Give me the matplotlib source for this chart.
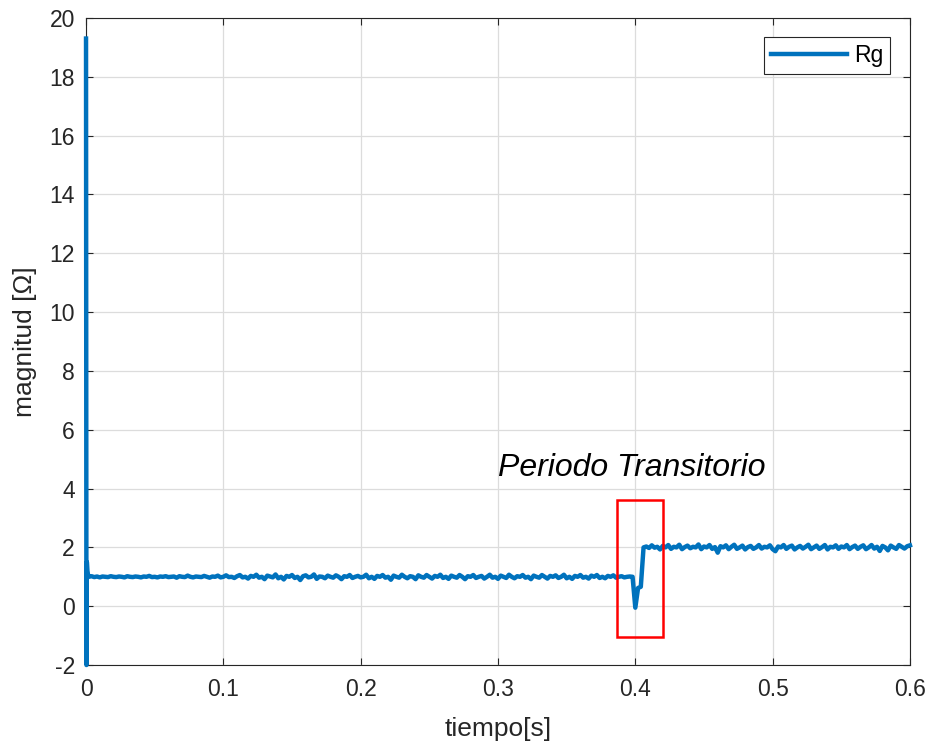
import numpy as np
import matplotlib.pyplot as plt
from matplotlib.patches import Rectangle

# start-up spike (non uniform time)
spike_t = [0.0, 0.0003, 0.0006, 0.0010, 0.0015]
spike_v = [19.3, -2.0, 1.5, 1.2, 1.05]

# main signal, sampled every 2 ms from 0.002 to 0.600
rg_vals = [
    1.00, 1.02, 0.99, 1.01, 0.98, 1.01, 1.00, 0.99, 1.02, 1.00,
    0.99, 1.01, 1.00, 0.98, 1.02, 1.00, 0.99, 1.01, 1.00, 0.98,
    1.01, 1.00, 1.03, 0.99, 1.00, 0.98, 1.01, 1.00, 1.02, 0.99,
    1.00, 1.01, 0.97, 1.02, 1.00, 0.99, 1.04, 1.00, 0.98, 1.01,
    1.00, 0.99, 1.03, 1.00, 0.97, 1.01, 1.00, 1.04, 0.98, 1.00,
    1.05, 0.99, 1.00, 0.96, 1.02, 1.06, 0.98, 1.00, 0.94, 1.03,
    1.00, 1.07, 0.97, 1.00, 0.92, 1.04, 1.01, 0.98, 1.08, 0.95,
    1.00, 0.91, 1.03, 1.00, 1.06, 0.96, 1.00, 0.89, 1.02, 1.05,
    0.98, 1.00, 1.08, 0.93, 1.01, 1.00, 0.95, 1.04, 1.00, 0.97,
    1.05, 1.00, 0.92, 1.02, 1.00, 1.06, 0.96, 1.00, 1.03, 0.98,
    1.00, 1.07, 0.95, 1.00, 0.93, 1.03, 1.00, 1.06, 0.97, 1.00,
    0.90, 1.04, 1.00, 0.97, 1.07, 1.00, 0.95, 1.02, 1.00, 0.92,
    1.05, 1.00, 0.97, 1.06, 1.00, 0.94, 1.03, 1.00, 1.07, 0.96,
    1.00, 0.93, 1.04, 1.00, 0.97, 1.06, 1.00, 0.92, 1.02, 1.00,
    1.06, 0.96, 1.00, 1.03, 0.94, 1.00, 1.07, 0.97, 1.00, 0.93,
    1.04, 1.00, 0.96, 1.07, 1.00, 0.95, 1.02, 1.00, 1.06, 0.97,
    1.00, 0.92, 1.04, 1.00, 0.97, 1.06, 1.00, 0.94, 1.03, 1.00,
    1.05, 0.96, 1.00, 1.07, 0.95, 1.00, 0.93, 1.03, 1.00, 1.06,
    0.97, 1.00, 0.94, 1.04, 1.00, 1.06, 0.96, 1.00, 0.95, 1.03,
    1.00, 1.05, 0.97, 1.00, 1.02, 0.98, 1.00, 1.01, 1.00, -0.05,
    0.62, 0.66, 2.00, 2.03, 1.98, 2.07, 1.99, 2.02, 1.93, 2.05,
    2.00, 2.08, 1.95, 2.02, 2.00, 2.09, 1.94, 2.01, 2.06, 1.97,
    2.02, 2.00, 2.10, 1.94, 2.03, 2.00, 2.08, 1.95, 2.01, 1.82,
    2.04, 2.00, 2.07, 1.94, 2.02, 2.09, 1.95, 2.00, 2.06, 1.93,
    2.01, 2.05, 1.95, 2.00, 2.08, 1.96, 2.02, 2.00, 2.07, 1.94,
    1.87, 2.03, 2.00, 2.08, 1.95, 2.02, 2.06, 1.93, 2.00, 2.05,
    1.96, 2.02, 2.09, 1.94, 2.00, 2.06, 1.95, 2.01, 2.08, 1.93,
    2.02, 2.00, 2.07, 1.95, 2.03, 2.00, 2.08, 1.94, 2.01, 2.06,
    1.95, 2.02, 2.07, 1.94, 2.00, 2.08, 1.96, 2.02, 1.88, 2.05,
    2.00, 1.90, 2.06, 2.00, 1.95, 2.08, 2.02, 1.96, 2.04, 2.07,
]
rg_t = np.arange(1, len(rg_vals) + 1) * 0.002

t = np.concatenate([spike_t, rg_t])
rg = np.concatenate([spike_v, rg_vals])

plt.rcParams['font.family'] = ['Liberation Sans', 'DejaVu Sans']
plt.rcParams['axes.unicode_minus'] = False

fig = plt.figure(figsize=(9.31, 7.49), dpi=100)
ax = fig.add_axes([0.0924, 0.1121, 0.885, 0.8639])

ax.plot(t, rg, color='#0072BD', linewidth=3.2, label='Rg', clip_on=False,
        zorder=3)

ax.set_xlim(0, 0.6)
ax.set_ylim(-2, 20)
ax.set_xticks([0, 0.1, 0.2, 0.3, 0.4, 0.5, 0.6])
ax.set_xticklabels(['0', '0.1', '0.2', '0.3', '0.4', '0.5', '0.6'])
ax.set_yticks(np.arange(-2, 21, 2))
ax.grid(True, color='#DCDCDC', linewidth=0.9)
ax.set_axisbelow(True)
ax.tick_params(direction='in', length=5, width=0.8, top=True, right=True,
               labelsize=16.5, colors='#262626')
ax.tick_params(axis='x', pad=9)
ax.tick_params(axis='y', pad=8)
for s in ax.spines.values():
    s.set_color('#262626')
    s.set_linewidth(0.8)

ax.set_xlabel('tiempo[s]', fontsize=19, color='#262626', labelpad=12)
ax.set_ylabel('magnitud [Ω]', fontsize=19, color='#262626', labelpad=9)

leg = ax.legend(loc='upper right', fontsize=16.5, fancybox=False,
                framealpha=1, edgecolor='#262626', handlelength=3.3,
                borderpad=0.3, handletextpad=0.3, borderaxespad=0,
                bbox_to_anchor=(0.9757, 0.9706))
leg.get_frame().set_linewidth(0.8)

# transitory period marker
ax.add_patch(Rectangle((0.3867, -1.05), 0.0334, 4.66, fill=False,
                       edgecolor='red', linewidth=1.8, zorder=4))
ax.text(0.3975, 4.7, 'Periodo Transitorio', fontsize=23, style='italic',
        ha='center', va='center', color='black')

fig.savefig('out.png', dpi=100)
